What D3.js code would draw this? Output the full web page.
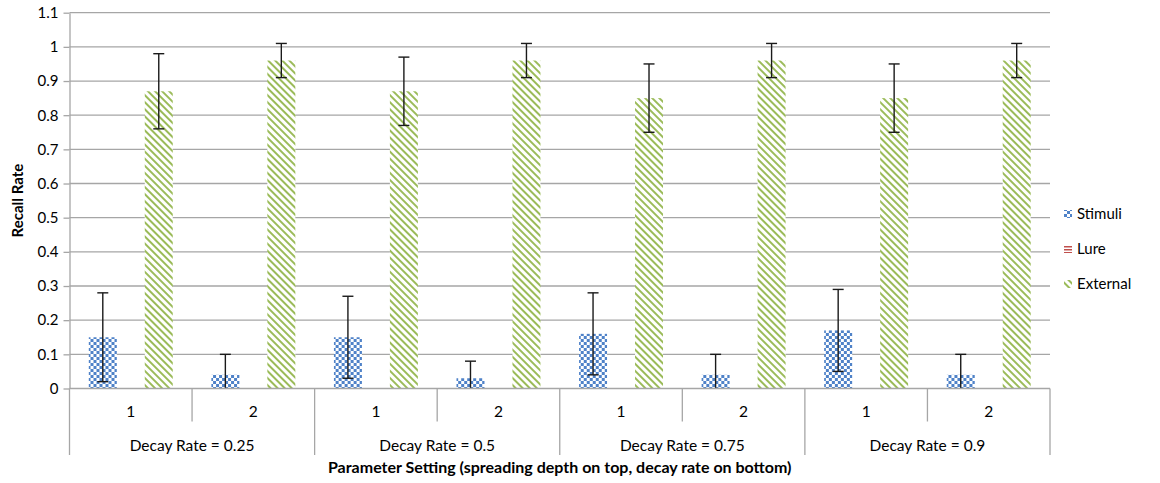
<!DOCTYPE html>
<html lang="en">
<head>
<meta charset="UTF-8">
<script src="https://d3js.org/d3.v7.min.js"></script>
<title>Recall Rate by Parameter Setting</title>
<style>
  body { margin: 0; background: #fff; }
  svg text { font-family: Lato, "Open Sans", sans-serif; fill: #000; }
</style>
</head>
<body>
<div id="chart"></div>
<script>
// data
var depths = ["1", "2", "1", "2", "1", "2", "1", "2"];
var decayGroups = ["Decay Rate = 0.25", "Decay Rate = 0.5", "Decay Rate = 0.75", "Decay Rate = 0.9"];
var seriesNames = ["Stimuli", "Lure", "External"];
var stimuli = [0.15, 0.04, 0.15, 0.03, 0.16, 0.04, 0.17, 0.04];
var stimuliErr = [0.13, 0.06, 0.12, 0.05, 0.12, 0.06, 0.12, 0.06];
var lure = [0, 0, 0, 0, 0, 0, 0, 0];
var external = [0.87, 0.96, 0.87, 0.96, 0.85, 0.96, 0.85, 0.96];
var externalErr = [0.11, 0.05, 0.10, 0.05, 0.10, 0.05, 0.10, 0.05];
var yTicks = [0, 0.1, 0.2, 0.3, 0.4, 0.5, 0.6, 0.7, 0.8, 0.9, 1, 1.1];

var width = 1160, height = 483;
var plotLeft = 69.5, plotRight = 1050, plotTop = 12.7, plotBottom = 388.5;

var svg = d3.select("#chart").append("svg")
    .attr("width", width)
    .attr("height", height);

var defs = svg.append("defs");
// checker for stimuli
var pc = defs.append("pattern").attr("id", "checker")
    .attr("patternUnits", "userSpaceOnUse").attr("width", 6).attr("height", 6);
pc.append("rect").attr("width", 6).attr("height", 6).attr("fill", "#fff");
pc.append("rect").attr("width", 3).attr("height", 3).attr("fill", "#4f82c8");
pc.append("rect").attr("x", 3).attr("y", 3).attr("width", 3).attr("height", 3).attr("fill", "#4f82c8");
// horizontal lines for lure
var pl = defs.append("pattern").attr("id", "hlines")
    .attr("patternUnits", "userSpaceOnUse").attr("width", 4).attr("height", 3);
pl.append("rect").attr("width", 4).attr("height", 3).attr("fill", "#fff");
pl.append("rect").attr("width", 4).attr("height", 1.5).attr("fill", "#c0504d");
// diagonal stripes for external, running top-left to bottom-right
var ps = defs.append("pattern").attr("id", "stripes")
    .attr("patternUnits", "userSpaceOnUse").attr("width", 5).attr("height", 5)
    .attr("patternTransform", "rotate(-45)");
ps.append("rect").attr("width", 5).attr("height", 5).attr("fill", "#fff");
ps.append("rect").attr("width", 2).attr("height", 5).attr("fill", "#9bbb59");

var fills = { Stimuli: "url(#checker)", Lure: "url(#hlines)", External: "url(#stripes)" };

var y = d3.scaleLinear().domain([0, 1.1]).range([plotBottom, plotTop]);

var x0 = d3.scaleBand().domain(d3.range(depths.length)).range([plotLeft, plotRight]).padding(0);
var bw = x0.bandwidth();
var x1 = d3.scaleBand().domain(seriesNames).range([bw * 0.1575, bw * 0.8425]).padding(0);

// gridlines
svg.append("g").selectAll("line")
    .data(yTicks.slice(1))
    .join("line")
    .attr("x1", plotLeft).attr("x2", plotRight)
    .attr("y1", function(d){ return y(d); })
    .attr("y2", function(d){ return y(d); })
    .attr("stroke", "#a6a6a6").attr("stroke-width", 1.3);

// y axis
var yAxis = svg.append("g")
    .attr("transform", "translate(" + plotLeft + ",0)")
    .call(d3.axisLeft(y).tickValues(yTicks).tickSize(6).tickSizeOuter(0)
        .tickFormat(function(d){ return String(+d.toFixed(1)); }));
yAxis.select(".domain").attr("stroke", "#a6a6a6").attr("stroke-width", 1.3);
yAxis.selectAll(".tick line").attr("stroke", "#a6a6a6").attr("stroke-width", 1.3);
yAxis.selectAll(".tick text").attr("font-size", 15).attr("x", -11)
    .style("font-family", "Lato, sans-serif");

// bars
var rows = depths.map(function(d, i){
    return [
        { key: "Stimuli", i: i, v: stimuli[i], e: stimuliErr[i] },
        { key: "Lure", i: i, v: lure[i], e: 0 },
        { key: "External", i: i, v: external[i], e: externalErr[i] }
    ];
});

var groups = svg.append("g").selectAll("g")
    .data(rows)
    .join("g")
    .attr("transform", function(d, i){ return "translate(" + x0(i) + ",0)"; });

groups.selectAll("rect")
    .data(function(d){ return d; })
    .join("rect")
    .attr("x", function(d){ return x1(d.key); })
    .attr("width", x1.bandwidth())
    .attr("y", function(d){ return y(d.v); })
    .attr("height", function(d){ return y(0) - y(d.v); })
    .attr("fill", function(d){ return fills[d.key]; });

// error bars
var errs = groups.selectAll("g.err")
    .data(function(d){ return d.filter(function(s){ return s.e > 0; }); })
    .join("g").attr("class", "err");
errs.each(function(d){
    var g = d3.select(this);
    var cx = x1(d.key) + x1.bandwidth() / 2;
    var hi = d.v + d.e, lo = Math.max(0, d.v - d.e);
    g.append("line").attr("x1", cx).attr("x2", cx)
        .attr("y1", y(hi)).attr("y2", y(lo))
        .attr("stroke", "#1a1a1a").attr("stroke-width", 1.4);
    g.append("line").attr("x1", cx - 5.5).attr("x2", cx + 5.5)
        .attr("y1", y(hi)).attr("y2", y(hi))
        .attr("stroke", "#1a1a1a").attr("stroke-width", 1.4);
    if (d.v - d.e > 0) {
        g.append("line").attr("x1", cx - 5.5).attr("x2", cx + 5.5)
            .attr("y1", y(lo)).attr("y2", y(lo))
            .attr("stroke", "#1a1a1a").attr("stroke-width", 1.4);
    }
});

// x axis (two levels)
var xa = svg.append("g");
xa.append("line").attr("x1", plotLeft).attr("x2", plotRight)
    .attr("y1", plotBottom).attr("y2", plotBottom)
    .attr("stroke", "#a6a6a6").attr("stroke-width", 1.3);
d3.range(depths.length + 1).forEach(function(i){
    var xx = i < depths.length ? x0(i) : plotRight;
    var long = i % 2 === 0;
    xa.append("line").attr("x1", xx).attr("x2", xx)
        .attr("y1", plotBottom).attr("y2", long ? 455 : 421.5)
        .attr("stroke", "#a6a6a6").attr("stroke-width", 1.3);
});
xa.selectAll("text.depth")
    .data(depths)
    .join("text").attr("class", "depth")
    .attr("x", function(d, i){ return x0(i) + bw / 2; })
    .attr("y", 417)
    .attr("text-anchor", "middle")
    .attr("font-size", 15.5)
    .text(function(d){ return d; });
xa.selectAll("text.decay")
    .data(decayGroups)
    .join("text").attr("class", "decay")
    .attr("x", function(d, i){ return x0(i * 2) + bw; })
    .attr("y", 451)
    .attr("text-anchor", "middle")
    .attr("font-size", 15.5)
    .text(function(d){ return d; });

// axis titles
svg.append("text")
    .attr("x", (plotLeft + plotRight) / 2).attr("y", 473)
    .attr("text-anchor", "middle")
    .attr("font-size", 16).attr("font-weight", "bold")
    .text("Parameter Setting (spreading depth on top, decay rate on bottom)");
svg.append("text")
    .attr("transform", "translate(23," + (plotTop + plotBottom) / 2 + ") rotate(-90)")
    .attr("text-anchor", "middle")
    .attr("font-size", 15).attr("font-weight", "bold")
    .text("Recall Rate");

// legend
var legend = svg.append("g").selectAll("g")
    .data(seriesNames)
    .join("g")
    .attr("transform", function(d, i){ return "translate(1064," + (214 + i * 35) + ")"; });
legend.append("rect")
    .attr("x", 0).attr("y", -4).attr("width", 8).attr("height", 8)
    .attr("fill", function(d){ return fills[d]; });
legend.append("text")
    .attr("x", 13).attr("y", 5)
    .attr("font-size", 15)
    .text(function(d){ return d; });
</script>
</body>
</html>
